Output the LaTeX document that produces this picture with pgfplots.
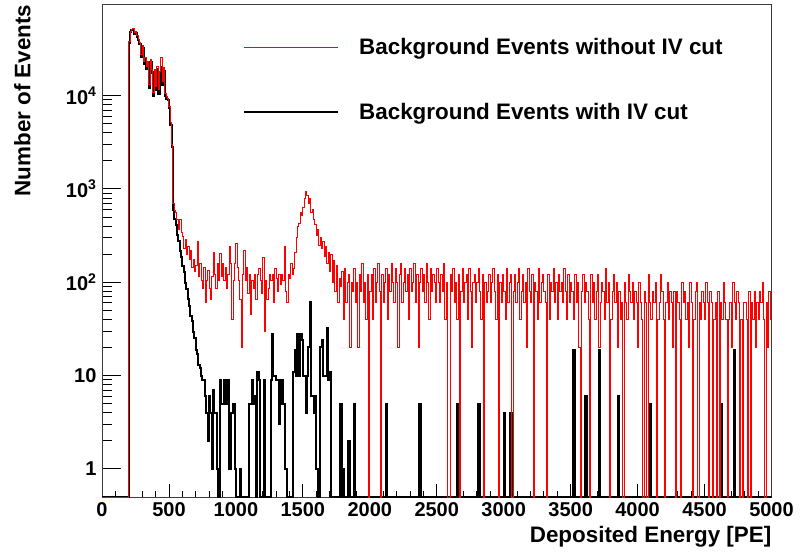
\documentclass[border=0pt]{standalone}
\usepackage{fontspec}
\setmainfont{Liberation Sans}
\usepackage{pgfplots}
\pgfplotsset{compat=1.18}
\usepackage{pgfplotstable}

\definecolor{framegray}{RGB}{60,60,60}

% Background events without IV cut (bin left edge [PE], events), 10 PE bins
\pgfplotstableread[row sep=\\]{
x y\\
0 0\\
200 38000\\ 210 49000\\ 220 51000\\ 230 52500\\ 240 47000\\ 250 48000\\ 260 43500\\ 270 40000\\ 280 37000\\ 290 27500\\
300 34000\\ 310 23400\\ 320 25700\\ 330 20700\\ 340 23400\\ 350 13100\\ 360 24500\\ 370 19000\\ 380 10800\\ 390 19000\\
400 12600\\ 410 20700\\ 420 11600\\ 430 18300\\ 440 25300\\ 450 14200\\ 460 19900\\ 470 10500\\ 480 9800\\ 490 9400\\
500 7700\\ 510 5100\\ 520 3000\\ 530 700\\ 540 590\\ 550 560\\ 560 470\\ 570 370\\ 580 470\\ 590 340\\
600 310\\ 610 230\\ 620 285\\ 630 200\\ 640 240\\ 650 175\\ 660 220\\ 670 145\\ 680 175\\ 690 130\\
700 150\\ 710 270\\ 720 115\\ 730 160\\ 740 105\\ 750 85\\ 760 145\\ 770 60\\ 780 105\\ 790 135\\
800 85\\ 810 65\\ 820 115\\ 830 210\\ 840 120\\ 850 85\\ 860 160\\ 870 105\\ 880 205\\ 890 115\\
900 160\\ 910 105\\ 920 145\\ 930 85\\ 940 120\\ 950 240\\ 960 160\\ 970 40\\ 980 105\\ 990 160\\
1000 260\\ 1010 145\\ 1020 105\\ 1030 65\\ 1040 20\\ 1050 120\\ 1060 220\\ 1070 105\\ 1080 145\\ 1090 75\\
1100 120\\ 1110 45\\ 1120 105\\ 1130 85\\ 1140 120\\ 1150 65\\ 1160 120\\ 1170 140\\ 1180 105\\ 1190 75\\
1200 185\\ 1210 30\\ 1220 105\\ 1230 65\\ 1240 85\\ 1250 120\\ 1260 105\\ 1270 120\\ 1280 60\\ 1290 140\\
1300 110\\ 1310 80\\ 1320 120\\ 1330 95\\ 1340 120\\ 1350 105\\ 1360 240\\ 1370 80\\ 1380 60\\ 1390 120\\
1400 110\\ 1410 160\\ 1420 120\\ 1430 140\\ 1440 210\\ 1450 300\\ 1460 400\\ 1470 430\\ 1480 560\\ 1490 520\\
1500 640\\ 1510 780\\ 1520 930\\ 1530 860\\ 1540 700\\ 1550 780\\ 1560 560\\ 1570 600\\ 1580 470\\ 1590 420\\
1600 320\\ 1610 370\\ 1620 250\\ 1630 300\\ 1640 230\\ 1650 270\\ 1660 190\\ 1670 240\\ 1680 160\\ 1690 210\\
1700 130\\ 1710 200\\ 1720 100\\ 1730 170\\ 1740 80\\ 1750 150\\ 1760 60\\ 1770 110\\ 1780 90\\ 1790 130\\
1800 40\\ 1810 140\\ 1820 60\\ 1830 100\\ 1840 120\\ 1850 20\\ 1860 100\\ 1870 80\\ 1880 140\\ 1890 60\\
1900 100\\ 1910 20\\ 1920 120\\ 1930 80\\ 1940 160\\ 1950 60\\ 1960 100\\ 1970 40\\ 1980 120\\ 1990 0\\
2000 80\\ 2010 120\\ 2020 40\\ 2030 140\\ 2040 60\\ 2050 100\\ 2060 160\\ 2070 80\\ 2080 0\\ 2090 120\\
2100 60\\ 2110 100\\ 2120 140\\ 2130 40\\ 2140 120\\ 2150 80\\ 2160 160\\ 2170 100\\ 2180 60\\ 2190 140\\
2200 100\\ 2210 20\\ 2220 120\\ 2230 160\\ 2240 60\\ 2250 100\\ 2260 140\\ 2270 80\\ 2280 120\\ 2290 40\\
2300 140\\ 2310 80\\ 2320 100\\ 2330 160\\ 2340 60\\ 2350 120\\ 2360 20\\ 2370 100\\ 2380 140\\ 2390 80\\
2400 120\\ 2410 60\\ 2420 160\\ 2430 100\\ 2440 40\\ 2450 140\\ 2460 80\\ 2470 120\\ 2480 100\\ 2490 60\\
2500 140\\ 2510 100\\ 2520 60\\ 2530 120\\ 2540 80\\ 2550 160\\ 2560 40\\ 2570 100\\ 2580 0\\ 2590 0\\
2600 120\\ 2610 80\\ 2620 140\\ 2630 60\\ 2640 100\\ 2650 40\\ 2660 120\\ 2670 0\\ 2680 80\\ 2690 140\\
2700 60\\ 2710 100\\ 2720 120\\ 2730 40\\ 2740 140\\ 2750 80\\ 2760 20\\ 2770 100\\ 2780 120\\ 2790 60\\
2800 100\\ 2810 140\\ 2820 80\\ 2830 40\\ 2840 120\\ 2850 0\\ 2860 100\\ 2870 60\\ 2880 80\\ 2890 120\\
2900 60\\ 2910 100\\ 2920 140\\ 2930 80\\ 2940 40\\ 2950 120\\ 2960 0\\ 2970 100\\ 2980 60\\ 2990 120\\
3000 80\\ 3010 40\\ 3020 140\\ 3030 60\\ 3040 100\\ 3050 120\\ 3060 0\\ 3070 80\\ 3080 120\\ 3090 60\\
3100 100\\ 3110 140\\ 3120 40\\ 3130 80\\ 3140 120\\ 3150 60\\ 3160 100\\ 3170 20\\ 3180 140\\ 3190 80\\
3200 60\\ 3210 120\\ 3220 0\\ 3230 100\\ 3240 80\\ 3250 40\\ 3260 140\\ 3270 60\\ 3280 100\\ 3290 120\\
3300 80\\ 3310 60\\ 3320 0\\ 3330 120\\ 3340 40\\ 3350 100\\ 3360 80\\ 3370 140\\ 3380 60\\ 3390 100\\
3400 40\\ 3410 120\\ 3420 80\\ 3430 100\\ 3440 60\\ 3450 140\\ 3460 80\\ 3470 40\\ 3480 120\\ 3490 60\\
3500 100\\ 3510 80\\ 3520 40\\ 3530 120\\ 3540 60\\ 3550 100\\ 3560 20\\ 3570 0\\ 3580 80\\ 3590 120\\
3600 60\\ 3610 100\\ 3620 80\\ 3630 40\\ 3640 0\\ 3650 120\\ 3660 60\\ 3670 100\\ 3680 40\\ 3690 80\\
3700 120\\ 3710 20\\ 3720 60\\ 3730 100\\ 3740 80\\ 3750 40\\ 3760 140\\ 3770 60\\ 3780 100\\ 3790 0\\
3800 40\\ 3810 80\\ 3820 120\\ 3830 60\\ 3840 100\\ 3850 20\\ 3860 80\\ 3870 40\\ 3880 60\\ 3890 0\\
3900 100\\ 3910 60\\ 3920 40\\ 3930 120\\ 3940 80\\ 3950 60\\ 3960 100\\ 3970 40\\ 3980 80\\ 3990 60\\
4000 20\\ 4010 100\\ 4020 60\\ 4030 40\\ 4040 0\\ 4050 80\\ 4060 60\\ 4070 0\\ 4080 120\\ 4090 60\\
4100 40\\ 4110 80\\ 4120 60\\ 4130 100\\ 4140 0\\ 4150 40\\ 4160 60\\ 4170 120\\ 4180 80\\ 4190 40\\
4200 0\\ 4210 60\\ 4220 100\\ 4230 40\\ 4240 80\\ 4250 60\\ 4260 20\\ 4270 80\\ 4280 0\\ 4290 80\\
4300 60\\ 4310 40\\ 4320 0\\ 4330 100\\ 4340 60\\ 4350 80\\ 4360 40\\ 4370 60\\ 4380 20\\ 4390 100\\
4400 60\\ 4410 0\\ 4420 40\\ 4430 80\\ 4440 100\\ 4450 0\\ 4460 60\\ 4470 40\\ 4480 80\\ 4490 60\\
4500 40\\ 4510 100\\ 4520 60\\ 4530 0\\ 4540 80\\ 4550 60\\ 4560 0\\ 4570 40\\ 4580 60\\ 4590 0\\
4600 80\\ 4610 0\\ 4620 60\\ 4630 40\\ 4640 100\\ 4650 60\\ 4660 40\\ 4670 0\\ 4680 40\\ 4690 60\\
4700 20\\ 4710 100\\ 4720 60\\ 4730 40\\ 4740 80\\ 4750 60\\ 4760 0\\ 4770 40\\ 4780 0\\ 4790 60\\
4800 60\\ 4810 40\\ 4820 0\\ 4830 80\\ 4840 0\\ 4850 60\\ 4860 40\\ 4870 80\\ 4880 20\\ 4890 60\\
4900 40\\ 4910 80\\ 4920 60\\ 4930 100\\ 4940 40\\ 4950 0\\ 4960 60\\ 4970 20\\ 4980 80\\ 4990 40\\
5000 40\\
}\redtab

% Background events with IV cut (bin left edge [PE], events); bins equal to the previous one omitted
\pgfplotstableread[row sep=\\]{
x y\\
0 0\\
200 37000\\ 210 48000\\ 220 50000\\ 230 51000\\ 240 46000\\ 250 47000\\ 260 42000\\ 270 39000\\ 280 36000\\ 290 26000\\
300 32000\\ 310 22000\\ 320 24500\\ 330 19500\\ 340 22000\\ 350 12000\\ 360 23000\\ 370 17500\\ 380 10000\\ 390 18000\\
400 11500\\ 410 19500\\ 420 10500\\ 430 17000\\ 440 20000\\ 450 13000\\ 460 18500\\ 470 9800\\ 480 9200\\ 490 8900\\
500 7300\\ 510 4800\\ 520 2800\\ 530 600\\ 540 480\\ 550 410\\ 560 320\\ 570 275\\ 580 215\\ 590 185\\
600 150\\ 610 128\\ 620 98\\ 630 84\\ 640 66\\ 650 56\\ 660 44\\ 670 38\\ 680 29\\ 690 25\\
700 19\\ 710 17\\ 720 13\\ 730 12\\ 740 10\\ 750 9\\ 760 9\\ 770 6\\ 780 4\\ 790 2\\
800 6\\ 810 4\\ 820 1\\ 830 7\\ 840 4\\ 850 4\\ 860 1\\ 870 0\\ 880 9\\ 890 5\\
900 5\\ 910 9\\ 920 5\\ 930 9\\ 940 9\\ 950 1\\ 960 4\\ 970 4\\ 980 5\\ 990 1\\
1000 0\\ 1030 1\\ 1040 0\\
1100 5\\ 1110 5\\ 1120 9\\ 1130 5\\ 1140 6\\ 1150 0\\ 1160 11\\ 1170 9\\ 1180 0\\
1210 9\\ 1220 0\\ 1260 9\\ 1270 28\\ 1280 10\\ 1290 10\\
1300 9\\ 1310 9\\ 1320 3\\ 1330 5\\ 1340 9\\ 1350 5\\ 1360 5\\ 1370 1\\ 1380 0\\
1430 11\\ 1440 19\\ 1450 10\\ 1460 28\\ 1470 10\\ 1480 28\\ 1490 24\\
1500 10\\ 1510 10\\ 1520 4\\ 1530 10\\ 1540 20\\ 1550 61\\ 1560 6\\ 1570 6\\ 1580 4\\ 1590 6\\
1600 1\\ 1610 0\\ 1630 20\\ 1640 24\\ 1650 10\\ 1660 10\\ 1670 10\\ 1680 32\\ 1690 9\\
1700 11\\ 1710 0\\ 1780 5\\ 1790 0\\ 1800 1\\ 1810 0\\ 1840 2\\ 1850 0\\ 1880 5\\ 1890 0\\
2120 5\\ 2130 0\\ 2370 5\\ 2380 0\\ 2650 5\\ 2660 0\\ 2810 5\\ 2820 0\\
3000 4\\ 3010 0\\ 3050 4\\ 3060 0\\ 3520 19\\ 3530 0\\ 3610 6\\ 3620 0\\ 3710 19\\ 3720 0\\
3850 6\\ 3860 0\\ 4090 5\\ 4100 0\\ 4620 5\\ 4630 0\\ 4720 19\\ 4730 0\\
5000 0\\
}\blacktab

\begin{document}
\begin{tikzpicture}
\useasboundingbox (0,0) rectangle (800bp,553bp);
\begin{axis}[
  at={(102bp,56bp)}, anchor=south west,
  scale only axis, width=669.5bp, height=492.5bp,
  xmin=0, xmax=5000,
  ymode=log, ymin=0.5, ymax=94600,
  axis line style={draw=framegray, line width=1bp},
  tick align=inside, tick pos=left,
  every tick/.style={black, line width=0.9bp},
  major tick length=19bp, minor tick length=9.5bp,
  every major x tick/.append style={/pgfplots/major tick length=13bp},
  every minor x tick/.append style={/pgfplots/minor tick length=6.5bp},
  xtick={0,500,...,5000}, minor x tick num=4,
  ytick={1,10,100,1000,10000},
  yticklabels={1,10,10\textsuperscript{2},10\textsuperscript{3},10\textsuperscript{4}},
  tick label style={font=\fontsize{20bp}{24bp}\selectfont\bfseries},
  xticklabel style={yshift=-2bp},
  yticklabel style={xshift=-2bp},
  xlabel={Deposited Energy [PE]},
  ylabel={Number of Events},
  label style={font=\fontsize{22.4bp}{26bp}\selectfont\bfseries, inner sep=0pt},
  xlabel style={at={(axis description cs:1,0)}, anchor=north east, yshift=-29.5bp},
  ylabel style={at={(axis description cs:-0.1344,1)}, anchor=north east, yshift=-2bp},
  no markers,
  reverse legend,
  legend cell align=left,
  legend image code/.code={\draw[#1] (0bp,0bp) -- (94bp,0bp);},
  legend style={at={(axis description cs:0.2106,0.932)}, anchor=north west,
    draw=none, fill=none, inner sep=0pt,
    font=\fontsize{22.4bp}{26bp}\selectfont\bfseries,
    nodes={inner sep=0pt},
    row sep=47bp,
    /tikz/every odd column/.append style={column sep=20bp}},
  /pgf/number format/1000 sep={},
  /pgf/number format/assume math mode=true,
]
\addplot[const plot mark left, draw=black, line width=2bp]
  table[x=x, y expr={max(\thisrow{y},0.5)}] {\blacktab};
\addlegendentry{Background Events with IV cut}
\addplot[const plot mark left, draw=red, line width=1bp]
  table[x=x, y expr={max(\thisrow{y},0.5)}] {\redtab};
\addlegendentry{Background Events without IV cut}
\end{axis}
\end{tikzpicture}
\end{document}
